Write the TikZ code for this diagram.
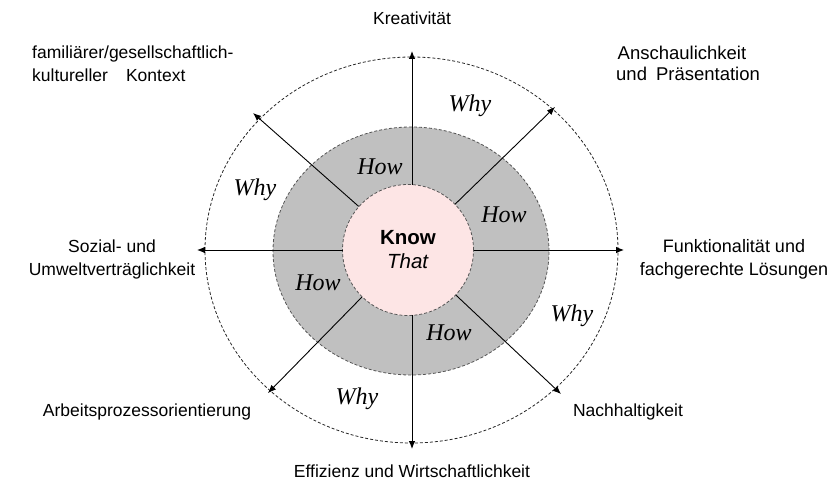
\documentclass[tikz,border=0pt]{standalone}
\usepackage{fontspec}
\setmainfont{Liberation Sans}
\newfontfamily\whyfont{Liberation Serif}
\usetikzlibrary{arrows.meta,shapes.geometric}
\definecolor{knowpink}{RGB}{253,229,229}
\definecolor{howgray}{RGB}{192,192,192}
\definecolor{rimgray}{RGB}{85,85,85}
\tikzset{
  ring/.style={ellipse,inner sep=0pt,line width=0.8pt,dash pattern=on 3pt off 2pt},
  spoke/.style={line width=0.9pt,-{Latex[length=8pt,width=6.5pt]}},
  aspect/.style={inner sep=0pt,font=\fontsize{17.5}{23}\selectfont},
  layer/.style={inner sep=0pt,font=\whyfont\itshape\fontsize{24}{28}\selectfont},
}
\begin{document}
\begin{tikzpicture}[x=1pt,y=-1pt]
\useasboundingbox (0,0) rectangle (835,486);

% rings: Why (outer), How (middle), Know That (core)
\node[ring,draw=black!85,minimum width=413pt,minimum height=386pt] (why) at (411.5,250) {};
\node[ring,draw=rimgray,fill=howgray,minimum width=276pt,minimum height=248pt] (how) at (411,251) {};
\node[ring,circle,draw=rimgray,fill=knowpink,minimum size=131pt,align=center,
      font=\fontsize{20.5}{25}\selectfont] (kt) at (408,250)
      {\textbf{Know}\\[-1pt]\textit{That}};

% arrow tips
\coordinate (tN)  at (412,51);
\coordinate (tS)  at (412,449);
\coordinate (tW)  at (197,250);
\coordinate (tE)  at (624,250);
\coordinate (tNW) at (253,113);
\coordinate (tNE) at (555,107);
\coordinate (tSW) at (268,393);
\coordinate (tSE) at (561,394);

\coordinate (kN) at (412,184.6);
\coordinate (kS) at (412,315.4);
\coordinate (kW) at (342.5,250);
\coordinate (kE) at (473.5,250);

\draw[spoke] (kN) -- (tN);
\draw[spoke] (kS) -- (tS);
\draw[spoke] (kW) -- (tW);
\draw[spoke] (kE) -- (tE);
\draw[spoke] (kt) -- (tNW);
\draw[spoke] (kt) -- (tNE);
\draw[spoke] (kt) -- (tSW);
\draw[spoke] (kt) -- (tSE);

% layer labels
\node[layer] (how1) at (380,167) {How};
\node[layer] (how2) at (504,215) {How};
\node[layer] (how3) at (318,283) {How};
\node[layer] (how4) at (449,333) {How};
\node[layer] (why1) at (470,106) {Why};
\node[layer] (why2) at (255,190) {Why};
\node[layer] (why3) at (572,316) {Why};
\node[layer] (why4) at (357,399) {Why};

% aspects around the rings
\node[aspect] (a1) at (412,18) {Kreativität};
\node[aspect,anchor=west,align=left,font=\fontsize{18.5}{21}\selectfont] (a2) at (616,63)
      {\hspace{1.5pt}Anschaulichkeit\\und\hspace{9pt}Präsentation};
\node[aspect,align=center,font=\fontsize{18}{23}\selectfont] (a3) at (734,259) {Funktionalität und\\fachgerechte Lösungen};
\node[aspect] (a4) at (628,412) {Nachhaltigkeit};
\node[aspect] (a5) at (412,471) {Effizienz und Wirtschaftlichkeit};
\node[aspect] (a6) at (147,412) {Arbeitsprozessorientierung};
\node[aspect,align=center] (a7) at (112,259) {Sozial- und\\Umweltverträglichkeit};
\node[aspect,anchor=west,align=left] (a8) at (32,64) {familiärer/gesellschaftlich-\\kultureller\hspace{18pt}Kontext};
\end{tikzpicture}
\end{document}
